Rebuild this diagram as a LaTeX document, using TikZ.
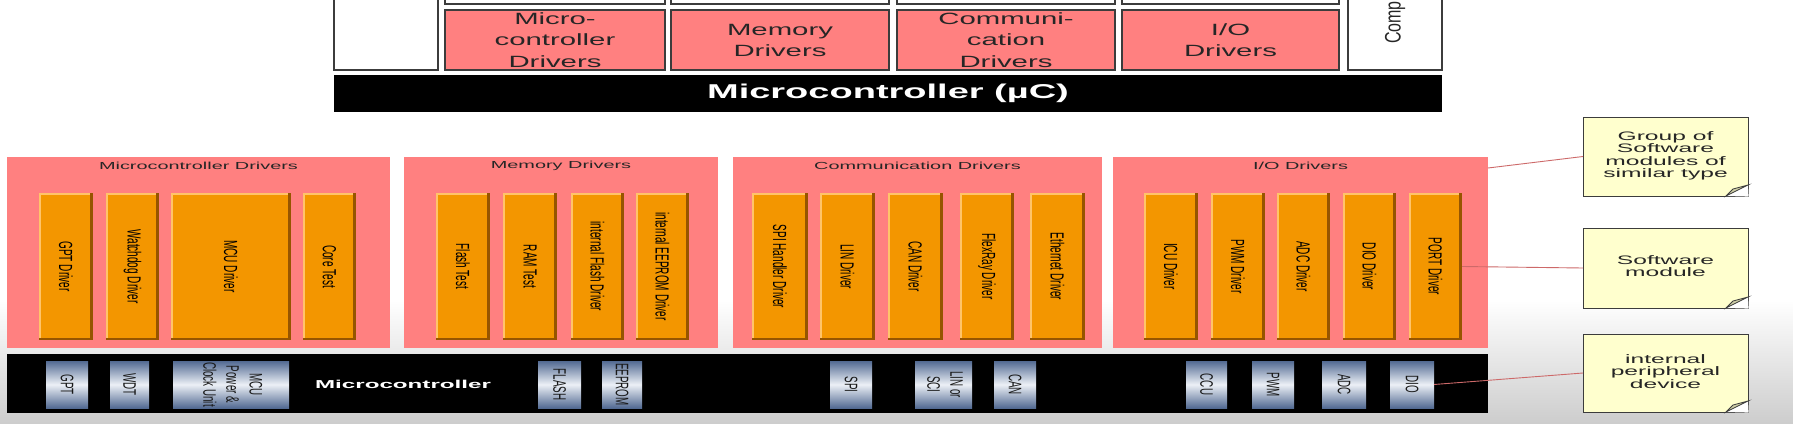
\documentclass[tikz,border=0pt]{standalone}
\usepackage{fontspec}
\setmainfont{Liberation Sans}
\usepackage{graphicx}
\definecolor{DrvPink}{RGB}{255, 128, 128}
\definecolor{ModOrange}{RGB}{243, 150, 0}
\definecolor{ModLight}{RGB}{255, 196, 105}
\definecolor{ModDark}{RGB}{150, 85, 0}
\definecolor{ChipBlue}{RGB}{82, 106, 146}
\definecolor{ChipLight}{RGB}{236, 240, 246}
\definecolor{NoteYellow}{RGB}{255, 255, 206}
\definecolor{NoteFold}{RGB}{205, 205, 165}
\definecolor{BoxGray}{RGB}{60, 60, 60}
\definecolor{LinkRed}{RGB}{205, 105, 105}
\definecolor{BgGray}{RGB}{205, 205, 205}

% stretched text (the screenshot is wider than tall)
\newcommand{\wtxt}[2][1.9]{\scalebox{#1}[1]{#2}}
\newcommand{\vtxt}[2][1.9]{\rotatebox{-90}{\scalebox{1}[#1]{#2}}}
\newcommand{\lines}[1]{\begin{tabular}{@{}c@{}}#1\end{tabular}}

\begin{document}
\begin{tikzpicture}[x=1pt, y=-1pt,
    topbox/.style={draw=BoxGray, line width=1.2pt, fill=white},
    drvbox/.style={draw=BoxGray, line width=1.2pt, fill=DrvPink, inner sep=0, outer sep=0},
    drvtext/.style={font=\fontsize{16.3}{21.5}\selectfont, text=black!85, inner sep=0},
    barbox/.style={fill=black, inner sep=0, outer sep=0},
    bartext/.style={text=white, inner sep=0},
    grpbox/.style={fill=DrvPink, inner sep=0, outer sep=0},
    grptitle/.style={font=\fontsize{10.2}{12}\selectfont, text=black!85, inner sep=0},
    swmod/.style={fill=ModOrange, inner sep=0, outer sep=0,
        font=\fontsize{10}{12}\selectfont,
        path picture={
            \fill[ModLight] (path picture bounding box.north west) rectangle ([xshift=2pt]path picture bounding box.south west);
            \fill[ModLight] (path picture bounding box.north west) rectangle ([yshift=-1.5pt]path picture bounding box.north east);
            \fill[ModDark] ([xshift=-3pt]path picture bounding box.north east) rectangle (path picture bounding box.south east);
            \fill[ModDark] ([yshift=2pt]path picture bounding box.south west) rectangle (path picture bounding box.south east);
        }},
    chip/.style={top color=ChipBlue, bottom color=ChipBlue, middle color=ChipLight,
        inner sep=0, outer sep=0, font=\fontsize{9.8}{12.5}\selectfont, text=black!90},
    note/.style={fill=NoteYellow, draw=BoxGray, line width=1pt, inner sep=0, outer sep=0,
        font=\fontsize{12.3}{12}\selectfont, text=black!85},
    notefold/.style={fill=NoteFold, draw=BoxGray, line width=0.8pt},
    link/.style={draw=LinkRed, line width=0.9pt}
    ]
    %%Background
    \useasboundingbox (0,0) rectangle (1793,423);
    \clip (0,0) rectangle (1793,423);
    \fill[white] (0,0) rectangle (1793,423);
    \shade[top color=white, bottom color=BgGray] (0,300) rectangle (1793,423);

    %% Upper layer view
    \draw[topbox]
    (445,-10) rectangle (665,4)
    (671,-10) rectangle (889,4)
    (897,-10) rectangle (1115,4)
    (1122,-10) rectangle (1339,4)
    ;
    \draw[topbox] (334,-10) rectangle (438,70);
    \draw[topbox] (1348,-10) rectangle (1442,70);
    \node[rotate=90, anchor=west, inner sep=0, font=\fontsize{16}{20}\selectfont, text=black!85]
        (cmp-t) at (1395,44) {\scalebox{1}[1.4]{Comp}};

    \node[drvbox, anchor=north west, minimum width=220, minimum height=60] (mcdrv) at (445,10) {};
    \node[drvbox, anchor=north west, minimum width=218, minimum height=60] (memdrv) at (671,10) {};
    \node[drvbox, anchor=north west, minimum width=218, minimum height=60] (comdrv) at (897,10) {};
    \node[drvbox, anchor=north west, minimum width=217, minimum height=60] (iodrv) at (1122,10) {};
    \node[drvtext] (mcdrv-t) at ([yshift=-1.5pt]mcdrv.center) {\wtxt[1.8]{\lines{Micro-\\controller\\Drivers}}};
    \node[drvtext] (memdrv-t) at ([yshift=-1.5pt]memdrv.center) {\wtxt[1.8]{\lines{Memory\\Drivers}}};
    \node[drvtext] (comdrv-t) at ([yshift=-1.5pt]comdrv.center) {\wtxt[1.8]{\lines{Communi-\\cation\\Drivers}}};
    \node[drvtext] (iodrv-t) at ([yshift=-1.5pt]iodrv.center) {\wtxt[1.8]{\lines{I/O\\Drivers}}};

    \node[barbox, anchor=north west, minimum width=1108, minimum height=37] (ucbar) at (334,75) {};
    \node[bartext, font=\bfseries\fontsize{20}{24}\selectfont] (ucbar-t) at (ucbar.center)
        {\wtxt{Microcontroller (µC)}};

    %% Groups of software modules
    \node[grpbox, anchor=north west, minimum width=383, minimum height=191] (mcgrp) at (7,157) {};
    \node[grpbox, anchor=north west, minimum width=314, minimum height=191] (memgrp) at (404,157) {};
    \node[grpbox, anchor=north west, minimum width=369, minimum height=191] (comgrp) at (733,157) {};
    \node[grpbox, anchor=north west, minimum width=375, minimum height=191] (iogrp) at (1113,157) {};
    \node[grptitle] (mcgrp-t) at ([yshift=-8.5pt]mcgrp.north) {\wtxt[1.95]{Microcontroller Drivers}};
    \node[grptitle] (memgrp-t) at ([yshift=-8.5pt]memgrp.north) {\wtxt[1.95]{Memory Drivers}};
    \node[grptitle] (comgrp-t) at ([yshift=-8.5pt]comgrp.north) {\wtxt[1.95]{Communication Drivers}};
    \node[grptitle] (iogrp-t) at ([yshift=-8.5pt]iogrp.north) {\wtxt[1.95]{I/O Drivers}};

    %% Software modules
    \node[swmod, anchor=north west, minimum width=54, minimum height=147] (gpt) at (39,193) {\vtxt{GPT Driver}};
    \node[swmod, anchor=north west, minimum width=53, minimum height=147] (wdg) at (106,193) {\vtxt{Watchdog Driver}};
    \node[swmod, anchor=north west, minimum width=120, minimum height=147] (mcu) at (171,193) {\vtxt{MCU Driver}};
    \node[swmod, anchor=north west, minimum width=53, minimum height=147] (core) at (303,193) {\vtxt{Core Test}};

    \node[swmod, anchor=north west, minimum width=54, minimum height=147] (flt) at (436,193) {\vtxt{Flash Test}};
    \node[swmod, anchor=north west, minimum width=54, minimum height=147] (ramt) at (503,193) {\vtxt{RAM Test}};
    \node[swmod, anchor=north west, minimum width=53, minimum height=147] (iflash) at (571,193) {\vtxt{internal Flash Driver}};
    \node[swmod, anchor=north west, minimum width=53, minimum height=147] (ieep) at (636,193) {\vtxt{internal EEPROM Driver}};

    \node[swmod, anchor=north west, minimum width=56, minimum height=147] (spi) at (752,193) {\vtxt{SPI Handler Driver}};
    \node[swmod, anchor=north west, minimum width=55, minimum height=147] (lin) at (820,193) {\vtxt{LIN Driver}};
    \node[swmod, anchor=north west, minimum width=55, minimum height=147] (can) at (888,193) {\vtxt{CAN Driver}};
    \node[swmod, anchor=north west, minimum width=54, minimum height=147] (fr) at (960,193) {\vtxt{FlexRay Driver}};
    \node[swmod, anchor=north west, minimum width=55, minimum height=147] (eth) at (1030,193) {\vtxt{Ethernet Driver}};

    \node[swmod, anchor=north west, minimum width=54, minimum height=147] (icu) at (1144,193) {\vtxt{ICU Driver}};
    \node[swmod, anchor=north west, minimum width=54, minimum height=147] (pwm) at (1211,193) {\vtxt{PWM Driver}};
    \node[swmod, anchor=north west, minimum width=53, minimum height=147] (adc) at (1277,193) {\vtxt{ADC Driver}};
    \node[swmod, anchor=north west, minimum width=53, minimum height=147] (dio) at (1343,193) {\vtxt{DIO Driver}};
    \node[swmod, anchor=north west, minimum width=53, minimum height=147] (port) at (1409,193) {\vtxt{PORT Driver}};

    %% Microcontroller with internal peripherals
    \node[barbox, anchor=north west, minimum width=1481, minimum height=59] (mcbar) at (7,354) {};
    \node[bartext, font=\bfseries\fontsize{11.5}{14}\selectfont] (mcbar-t) at (403,384) {\wtxt[2.1]{Microcontroller}};

    \node[chip, anchor=north west, minimum width=42, minimum height=47] (gptc) at (46,361) {\vtxt[1.85]{GPT}};
    \node[chip, anchor=north west, minimum width=39, minimum height=47] (wdtc) at (110,361) {\vtxt[1.85]{WDT}};
    \node[chip, anchor=north west, minimum width=116, minimum height=47] (mcupc) at (173,361)
        {\vtxt[1.85]{\lines{MCU\\Power \&\\Clock Unit}}};
    \node[chip, anchor=north west, minimum width=43, minimum height=47] (flashc) at (538,361) {\vtxt[1.85]{FLASH}};
    \node[chip, anchor=north west, minimum width=40, minimum height=47] (eepc) at (602,361) {\vtxt[1.85]{EEPROM}};
    \node[chip, anchor=north west, minimum width=42, minimum height=47] (spic) at (830,361) {\vtxt[1.85]{SPI}};
    \node[chip, anchor=north west, minimum width=57, minimum height=47] (linc) at (915,361)
        {\vtxt[1.85]{\lines{LIN or\\SCI}}};
    \node[chip, anchor=north west, minimum width=42, minimum height=47] (canc) at (994,361) {\vtxt[1.85]{CAN}};
    \node[chip, anchor=north west, minimum width=41, minimum height=47] (ccuc) at (1186,361) {\vtxt[1.85]{CCU}};
    \node[chip, anchor=north west, minimum width=42, minimum height=47] (pwmc) at (1252,361) {\vtxt[1.85]{PWM}};
    \node[chip, anchor=north west, minimum width=44, minimum height=47] (adcc) at (1322,361) {\vtxt[1.85]{ADC}};
    \node[chip, anchor=north west, minimum width=44, minimum height=47] (dioc) at (1390,361) {\vtxt[1.85]{DIO}};

    %% Notes
    \node[note, anchor=north west, minimum width=165, minimum height=79] (grpnote) at (1583,117)
        {\wtxt[2]{\lines{Group of\\Software\\modules of\\similar type}}};
    \node[note, anchor=north west, minimum width=165, minimum height=80] (swnote) at (1583,228)
        {\wtxt[2]{\lines{Software\\module}}};
    \node[note, anchor=north west, minimum width=165, minimum height=78] (perinote) at (1583,334)
        {\wtxt[2]{\lines{internal\\peripheral\\device}}};
    \foreach \n in {grpnote, swnote, perinote}{
        \fill[white] ([xshift=-22pt]\n.south east) -- ([xshift=0.6pt,yshift=-0.6pt]\n.south east)
            -- ([yshift=11pt]\n.south east) -- cycle;
        \filldraw[notefold] ([xshift=-22pt]\n.south east) -- ([yshift=11pt]\n.south east)
            -- ([xshift=-15pt,yshift=7pt]\n.south east) -- cycle;
    }

    %% Links
    \draw[link] (grpnote.west) -- ([yshift=-11pt]iogrp.north east);
    \draw[link] (swnote.west) -- (port.east);
    \draw[link] (perinote.west) -- (dioc.east);

\end{tikzpicture}
\end{document}
